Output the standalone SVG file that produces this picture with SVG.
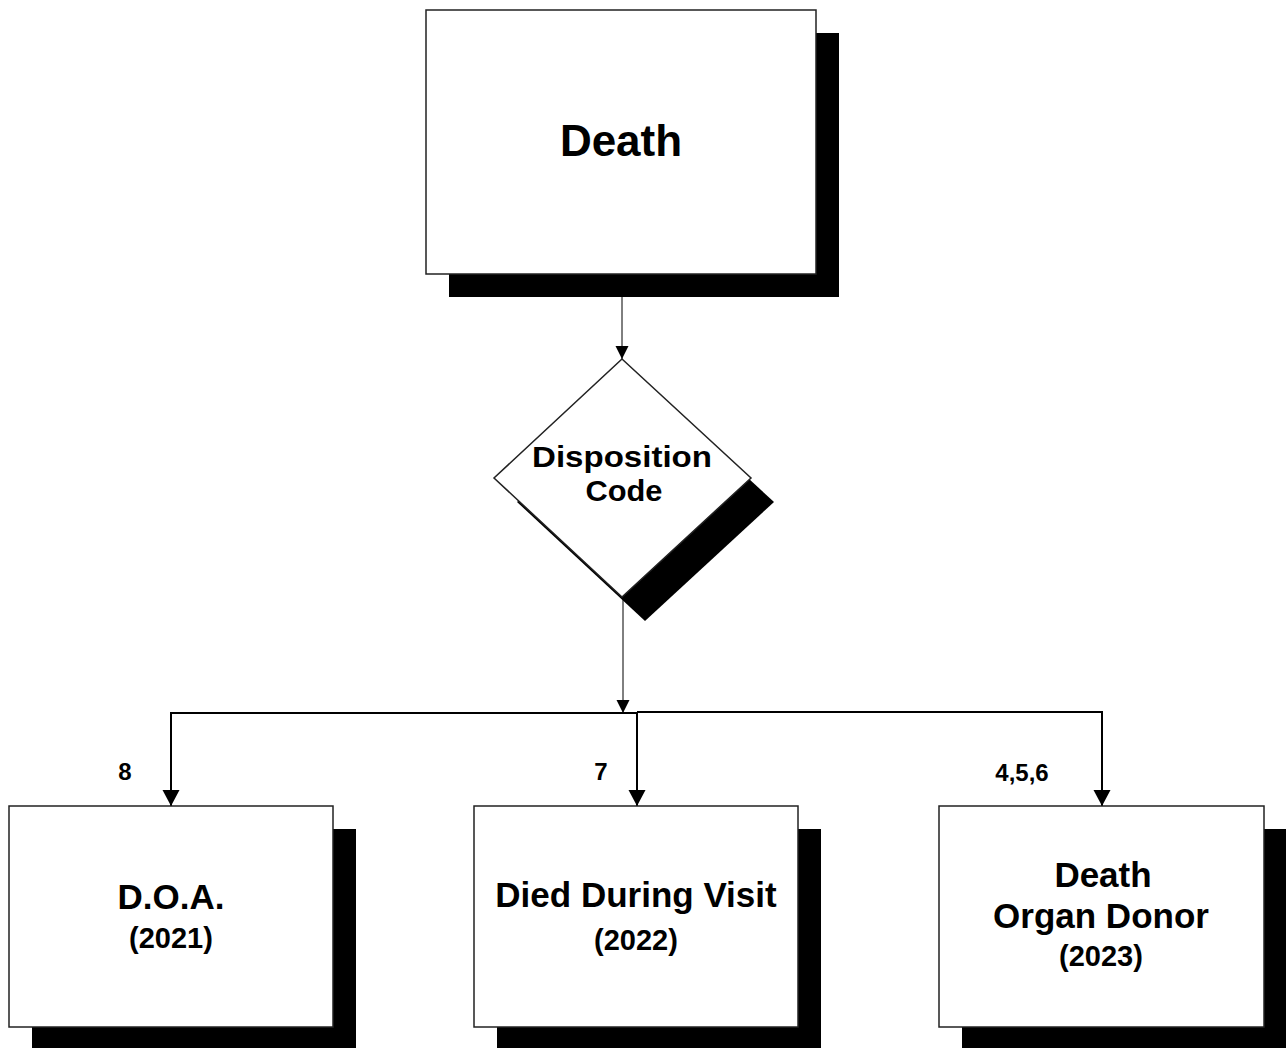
<svg xmlns="http://www.w3.org/2000/svg" width="1286" height="1048" viewBox="0 0 1286 1048">
<style>
.box{fill:#fff;stroke:#222;stroke-width:1.5}
.shadow{fill:#000}
.t{font-family:"Liberation Sans",Arial,sans-serif;font-weight:bold;fill:#000;text-anchor:middle}
.thin{fill:none;stroke:#000;stroke-width:1}
.thick{fill:none;stroke:#000;stroke-width:2}
</style>
<defs>
<marker id="ahS" markerUnits="userSpaceOnUse" markerWidth="14" markerHeight="14" refX="13" refY="6.5" orient="auto">
<path d="M0,0 L13,6.5 L0,13 Z" fill="#000"/>
</marker>
<marker id="ahL" markerUnits="userSpaceOnUse" markerWidth="18" markerHeight="18" refX="16" refY="8.5" orient="auto">
<path d="M0,0 L16,8.5 L0,17 Z" fill="#000"/>
</marker>
</defs>
<g id="connectors">
<line class="thin" x1="622" y1="274" x2="622" y2="359" marker-end="url(#ahS)"/>
<line class="thin" x1="623" y1="597" x2="623" y2="713" marker-end="url(#ahS)"/>
<polyline class="thick" points="637,713 171,713 171,806" marker-end="url(#ahL)"/>
<line class="thick" x1="637" y1="712" x2="637" y2="806" marker-end="url(#ahL)"/>
<polyline class="thick" points="637,712 1102,712 1102,806" marker-end="url(#ahL)"/>
<text class="t" x="125" y="780" font-size="24">8</text>
<text class="t" x="601" y="780" font-size="24">7</text>
<text class="t" x="1022" y="781" font-size="24">4,5,6</text>
</g>
<g id="death">
<rect class="shadow" x="449" y="33" width="390" height="264"/>
<rect class="box" x="426" y="10" width="390" height="264"/>
<text class="t" x="621" y="156" font-size="44">Death</text>
</g>
<g id="disposition">
<polygon class="shadow" points="645,383 774,502 645,621 517,502"/>
<polygon class="box" points="622,359 751,478 622,597 494,478"/>
<text class="t" x="622" y="467" font-size="29" textLength="180" lengthAdjust="spacingAndGlyphs">Disposition</text>
<text class="t" x="624" y="501" font-size="29" textLength="77" lengthAdjust="spacingAndGlyphs">Code</text>
</g>
<g id="doa">
<rect class="shadow" x="32" y="829" width="324" height="221"/>
<rect class="box" x="9" y="806" width="324" height="221"/>
<text class="t" x="171" y="909" font-size="35">D.O.A.</text>
<text class="t" x="171" y="948" font-size="29">(2021)</text>
</g>
<g id="died">
<rect class="shadow" x="497" y="829" width="324" height="221"/>
<rect class="box" x="474" y="806" width="324" height="221"/>
<text class="t" x="636" y="907" font-size="35">Died During Visit</text>
<text class="t" x="636" y="950" font-size="29">(2022)</text>
</g>
<g id="organ">
<rect class="shadow" x="962" y="829" width="325" height="221"/>
<rect class="box" x="939" y="806" width="325" height="221"/>
<text class="t" x="1103" y="887" font-size="35">Death</text>
<text class="t" x="1101" y="928" font-size="35">Organ Donor</text>
<text class="t" x="1101" y="966" font-size="29">(2023)</text>
</g>
</svg>
